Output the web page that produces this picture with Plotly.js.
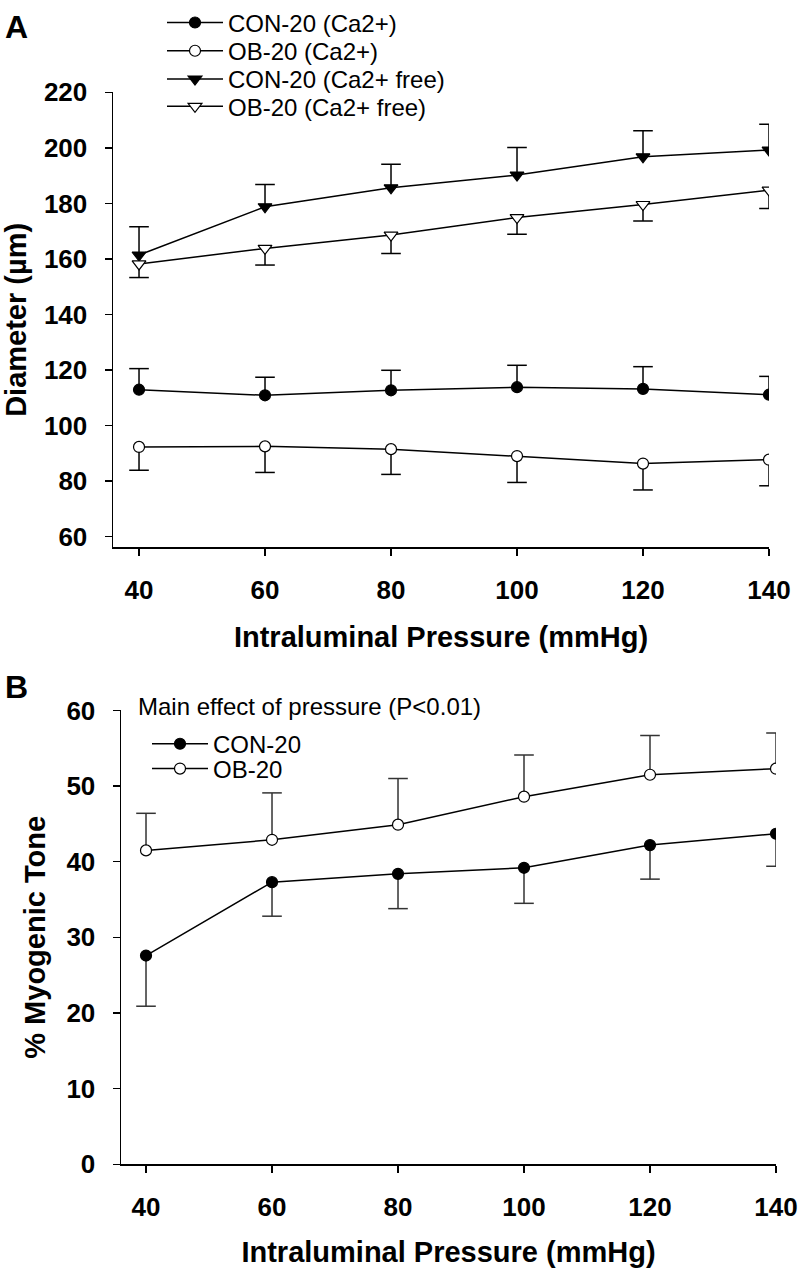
<!DOCTYPE html>
<html>
<head>
<meta charset="utf-8">
<script src="https://cdn.plot.ly/plotly-3.0.1.min.js"></script>
<style>html,body{margin:0;padding:0;background:#fff;}#chart{width:799px;height:1268px;}</style>
</head>
<body>
<div id="chart"></div>
<script>
// ---- data ----
const pressure = [40, 60, 80, 100, 120, 140];

// Panel A: Diameter (µm)
const conCa      = [112.9, 110.9, 112.7, 113.8, 113.2, 111.1];
const conCaErr   = [7.6, 6.5, 7.2, 7.9, 8.0, 6.6];      // upward SE
const obCa       = [92.3, 92.5, 91.5, 89.0, 86.3, 87.7];
const obCaErr    = [8.4, 9.4, 9.1, 9.5, 9.5, 9.4];      // downward SE
const conFree    = [161.4, 178.8, 185.6, 190.2, 196.8, 199.2];
const conFreeErr = [10.2, 8.0, 8.5, 9.9, 9.4, 9.3];     // upward SE
const obFree     = [158.2, 163.8, 168.6, 174.9, 179.6, 184.8];
const obFreeErr  = [4.9, 6.0, 6.6, 6.0, 5.9, 6.6];      // downward SE

// Panel B: % Myogenic tone
const conTone    = [27.6, 37.3, 38.4, 39.2, 42.2, 43.7];
const conToneErr = [6.7, 4.5, 4.6, 4.7, 4.5, 4.3];      // downward SE
const obTone     = [41.5, 42.9, 44.9, 48.6, 51.5, 52.3];
const obToneErr  = [4.9, 6.2, 6.1, 5.5, 5.2, 4.7];      // upward SE

const diameterTicks = [60, 80, 100, 120, 140, 160, 180, 200, 220];
const toneTicks = [0, 10, 20, 30, 40, 50, 60];

const namesA = ['CON-20 (Ca2+)', 'OB-20 (Ca2+)', 'CON-20 (Ca2+ free)', 'OB-20 (Ca2+ free)'];
const namesB = ['CON-20', 'OB-20'];
const noteB = 'Main effect of pressure (P<0.01)';

// ---- styling ----
const FONT = 'Liberation Sans, Arial, Helvetica, sans-serif';
const zeros = pressure.map(() => 0);

function series(y, err, dir, name, symbol, size, fill, xa, ya, legend, errColor) {
  const up = dir === 'up';
  const main = {
    x: pressure, y: y, name: name, type: 'scatter', mode: 'lines+markers',
    xaxis: xa, yaxis: ya, legend: legend,
    line: {color: '#000', width: 1.5},
    marker: {symbol: symbol, size: size, color: fill, line: {color: '#000', width: 1.2}},
    error_y: {type: 'data', symmetric: false,
      array: up ? err : zeros, arrayminus: up ? zeros : err,
      color: errColor, thickness: 1.5, width: 0}
  };
  const caps = {
    x: pressure, y: y.map((v, i) => up ? v + err[i] : v - err[i]),
    type: 'scatter', mode: 'markers', showlegend: false, hoverinfo: 'skip',
    xaxis: xa, yaxis: ya,
    marker: {symbol: 'line-ew', size: 14, color: errColor, line: {color: errColor, width: 1.5}}
  };
  return [caps, main];
}

const traces = [].concat(
  series(conCa,   conCaErr,   'up',   namesA[0], 'circle',        11, '#000', 'x',  'y',  'legend',  '#000'),
  series(obCa,    obCaErr,    'down', namesA[1], 'circle',        11, '#fff', 'x',  'y',  'legend2', '#000'),
  series(conFree, conFreeErr, 'up',   namesA[2], 'triangle-down', 12, '#000', 'x',  'y',  'legend3', '#000'),
  series(obFree,  obFreeErr,  'down', namesA[3], 'triangle-down', 12, '#fff', 'x',  'y',  'legend4', '#000'),
  series(conTone, conToneErr, 'down', namesB[0], 'circle',        11, '#000', 'x2', 'y2', 'legend5', '#333'),
  series(obTone,  obToneErr,  'up',   namesB[1], 'circle',        11, '#fff', 'x2', 'y2', 'legend6', '#333')
);

const W = 799, H = 1268;
const axisCommon = {
  showline: true, linecolor: '#000', linewidth: 1.5,
  ticks: 'outside', ticklen: 7, tickwidth: 1.5, tickcolor: '#000',
  showgrid: false, zeroline: false, fixedrange: true,
  tickfont: {family: FONT, size: 26, color: '#000', weight: 'bold'}
};
const titleFont = {family: FONT, size: 29, color: '#000', weight: 'bold'};
const legFont = {family: FONT, size: 24, color: '#000'};

function leg(xpx, ypx) {
  return {x: xpx / W, y: 1 - ypx / H, xanchor: 'left', yanchor: 'middle',
    bgcolor: 'rgba(0,0,0,0)', borderwidth: 0, itemwidth: 56, font: legFont};
}

const layout = {
  width: W, height: H,
  margin: {l: 0, r: 0, t: 0, b: 0},
  paper_bgcolor: '#fff', plot_bgcolor: '#fff',
  font: {family: FONT, color: '#000'},
  showlegend: true,
  xaxis: Object.assign({}, axisCommon, {
    domain: [113 / W, 769 / W], range: [35.87, 140], anchor: 'y',
    tickvals: pressure, ticklabelstandoff: 12,
    title: {text: 'Intraluminal Pressure (mmHg)', font: titleFont, standoff: 22}
  }),
  yaxis: Object.assign({}, axisCommon, {
    domain: [1 - 541.7 / H, 1 - 83 / H], range: [56.1, 220], anchor: 'x',
    tickvals: diameterTicks, ticklabelstandoff: 12,
    title: {text: 'Diameter (µm)', font: titleFont, standoff: 10}
  }),
  xaxis2: Object.assign({}, axisCommon, {
    domain: [121 / W, 776 / W], range: [36.03, 140], anchor: 'y2',
    tickvals: pressure, ticklabelstandoff: 12,
    title: {text: 'Intraluminal Pressure (mmHg)', font: titleFont, standoff: 22}
  }),
  yaxis2: Object.assign({}, axisCommon, {
    domain: [1 - 1163.5 / H, 1 - 706 / H], range: [0, 60], anchor: 'x2',
    tickvals: toneTicks, ticklabelstandoff: 12,
    title: {text: '% Myogenic Tone', font: titleFont, standoff: 12}
  }),
  legend:  leg(162, 13),
  legend2: leg(162, 41.5),
  legend3: leg(162, 70),
  legend4: leg(162, 97.5),
  legend5: leg(147, 740),
  legend6: leg(147, 765),
  annotations: [
    {text: 'A', xref: 'paper', yref: 'paper', x: 16 / W, y: 1 - 17 / H, xanchor: 'center', yanchor: 'middle',
     showarrow: false, font: {family: FONT, size: 32, weight: 'bold', color: '#000'}},
    {text: 'B', xref: 'paper', yref: 'paper', x: 16 / W, y: 1 - 682 / H, xanchor: 'center', yanchor: 'middle',
     showarrow: false, font: {family: FONT, size: 32, weight: 'bold', color: '#000'}},
    {text: noteB, xref: 'paper', yref: 'paper', x: 136 / W, y: 1 - 702 / H, xanchor: 'left', yanchor: 'middle',
     showarrow: false, font: legFont}
  ]
};

Plotly.newPlot('chart', traces, layout, {displayModeBar: false, staticPlot: true});
</script>
</body>
</html>
